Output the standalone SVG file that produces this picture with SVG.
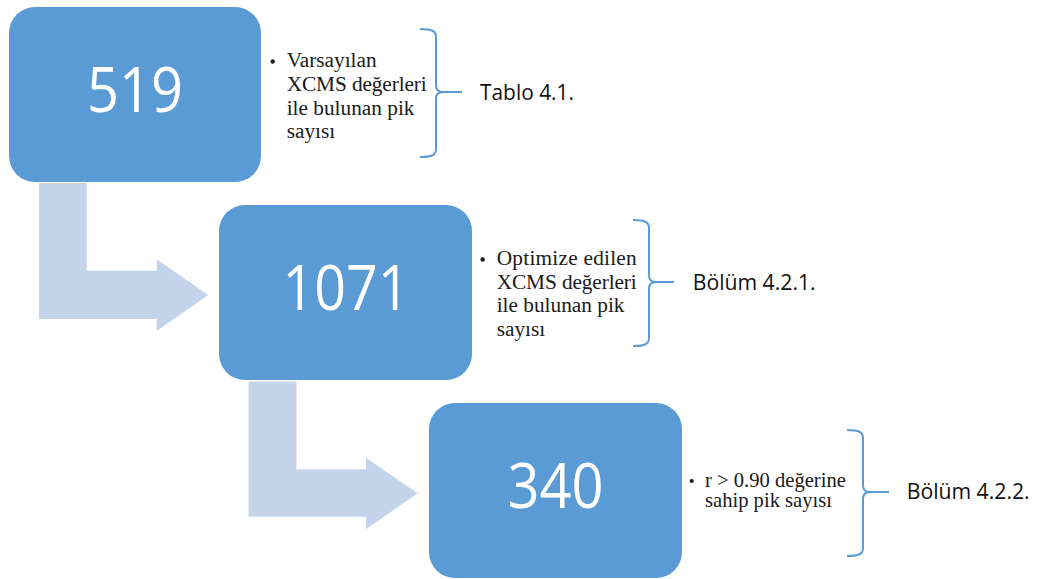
<svg xmlns="http://www.w3.org/2000/svg" width="1038" height="579" viewBox="0 0 1038 579">
<style>
.box{fill:#5B9BD5}
.num{font-family:"Open Sans","Liberation Sans",sans-serif;font-size:63px;fill:#FFFFFF;text-anchor:middle}
.arrow{fill:#C4D5EB}
.bul{font-family:"Liberation Serif","Times New Roman",serif;font-size:21.3px;fill:#1a1a1a}
.bul3{font-family:"Liberation Serif","Times New Roman",serif;font-size:20.6px;fill:#1a1a1a}
.lbl{font-family:"Open Sans","Liberation Sans",sans-serif;font-size:21px;fill:#111111}
.brace{fill:none;stroke:#5B9BD5;stroke-width:2}
</style>
<rect width="1038" height="579" fill="#FFFFFF"/>
<g id="connectors">
<path class="arrow" d="M39,183 H86.7 V270.7 H156.7 V259.3 L208.3,295 L156.7,331 V319 H39 Z"/>
<path class="arrow" d="M248.5,381.5 H296.5 V469.3 H366 V457.7 L417.7,493.3 L366,529.3 V516.7 H248.5 Z"/>
</g>
<g id="node1">
<rect class="box" x="9" y="7" width="252" height="175" rx="26"/>
<text class="num" x="135" y="112" textLength="96" lengthAdjust="spacingAndGlyphs">519</text>
</g>
<g id="node2">
<rect class="box" x="219" y="205" width="253" height="175" rx="26"/>
<text class="num" x="346" y="310" textLength="127" lengthAdjust="spacingAndGlyphs">1071</text>
</g>
<g id="node3">
<rect class="box" x="429" y="403" width="253" height="175" rx="26"/>
<text class="num" x="555.5" y="508" textLength="96" lengthAdjust="spacingAndGlyphs">340</text>
</g>
<g id="note1">
<circle cx="272.7" cy="61.5" r="2.2" fill="#1a1a1a"/>
<text class="bul" x="286.7" y="67">Varsayılan</text>
<text class="bul" x="286.7" y="91" textLength="140" lengthAdjust="spacing">XCMS değerleri</text>
<text class="bul" x="286.7" y="114.5">ile bulunan pik</text>
<text class="bul" x="286.7" y="138">sayısı</text>
<path class="brace" d="M420,29 C432,29 436,31 436,37 L436,85 C436,90 438,92 443,92 L462,92 M443,92 C438,92 436,94 436,99 L436,149 C436,155 432,157 420,157"/>
<text class="lbl" x="480" y="100" textLength="94" lengthAdjust="spacingAndGlyphs">Tablo 4.1.</text>
</g>
<g id="note2">
<circle cx="482.7" cy="259.5" r="2.2" fill="#1a1a1a"/>
<text class="bul" x="496.7" y="265" textLength="140" lengthAdjust="spacing">Optimize edilen</text>
<text class="bul" x="496.7" y="288.5" textLength="140" lengthAdjust="spacing">XCMS değerleri</text>
<text class="bul" x="496.7" y="312">ile bulunan pik</text>
<text class="bul" x="496.7" y="335.5">sayısı</text>
<path class="brace" d="M633,220 C645,220 649,222 649,228 L649,275 C649,280 651,282 656,282 L674,282 M656,282 C651,282 649,284 649,289 L649,338 C649,344 645,346 633,346"/>
<text class="lbl" x="692.7" y="290" textLength="123" lengthAdjust="spacingAndGlyphs">Bölüm 4.2.1.</text>
</g>
<g id="note3">
<circle cx="691.7" cy="481" r="2.1" fill="#1a1a1a"/>
<text class="bul3" x="705" y="487">r &gt; 0.90 değerine</text>
<text class="bul3" x="705" y="507">sahip pik sayısı</text>
<path class="brace" d="M847,430 C859,430 863,432 863,438 L863,485 C863,490 865,492 870,492 L889,492 M870,492 C865,492 863,494 863,499 L863,548 C863,554 859,556 847,556"/>
<text class="lbl" x="906.7" y="499" textLength="123" lengthAdjust="spacingAndGlyphs">Bölüm 4.2.2.</text>
</g>
</svg>
